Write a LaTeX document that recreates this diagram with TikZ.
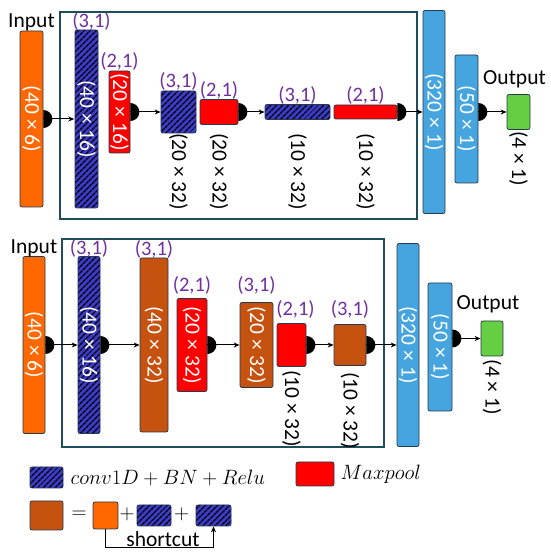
\documentclass[tikz,border=0pt]{standalone}
\usepackage{fontspec}
\setmainfont{Carlito}
\usetikzlibrary{arrows.meta,positioning,patterns.meta}
\definecolor{orng}{RGB}{255,104,0}
\definecolor{brwn}{RGB}{197,82,14}
\definecolor{hblue}{RGB}{60,60,200}
\definecolor{lblue}{RGB}{70,165,222}
\definecolor{lgrn}{RGB}{102,206,66}
\definecolor{purp}{RGB}{112,48,160}
\definecolor{edge}{RGB}{38,58,78}
\definecolor{frm}{RGB}{30,78,92}
\newcommand{\vtxt}[1]{\rotatebox{-90}{#1}}
\newcommand{\bump}[1]{\fill (#1) ++(0,-9) arc[start angle=-90,end angle=90,radius=9];}

\begin{document}
\begin{tikzpicture}[>={Stealth[length=6pt,width=5pt]},x=1pt,y=1pt,
  font=\fontsize{21.5}{25}\selectfont,
  every node/.style={inner sep=0pt},
  lay/.style 2 args={draw=edge,line width=0.8pt,rounded corners=2pt,text=white,minimum width=#1pt,minimum height=#2pt},
  inp/.style 2 args={lay={#1}{#2},fill=orng},
  conv/.style 2 args={lay={#1}{#2},preaction={fill=hblue},pattern={Lines[angle=45,distance=4pt,line width=1.5pt]},pattern color=black},
  pool/.style 2 args={lay={#1}{#2},fill=red},
  res/.style 2 args={lay={#1}{#2},fill=brwn},
  dense/.style 2 args={lay={#1}{#2},fill=lblue},
  outl/.style 2 args={lay={#1}{#2},fill=lgrn},
  ks/.style={text=purp,font=\fontsize{20.5}{24}\selectfont},
  con/.style={->,line width=1pt},
  frame/.style={draw=frm,line width=1.2pt}]
\useasboundingbox (0,0) rectangle (550,560);
\draw[frame] (60,548) rectangle (417,341);
\draw[frame] (62,321) rectangle (384,113);

% top row
\node[inp={23}{176}] (in1) at (31.5,441) {\vtxt{(40 × 6)}};
\node[conv={23}{178}] (cv1) at (86.5,441) {\vtxt{(40 × 16)}};
\node[pool={21}{82}] (mp1) at (119.5,448) {\vtxt{(20 × 16)}};
\node[conv={35}{42}] (cv2) at (178.5,448) {};
\node[pool={38}{25}] (mp2) at (219,448) {};
\node[conv={65}{15}] (cv3) at (297.5,448) {};
\node[pool={63}{14}] (mp3) at (365.5,448) {};
\node[dense={22}{203}] (fc1) at (434,448) {\vtxt{(320 × 1)}};
\node[dense={23}{128}] (fc2) at (466.5,441) {\vtxt{(50 × 1)}};
\node[outl={23}{35}] (out1) at (518.5,448) {};

\node[above=-1pt of in1] (ti1) {Input};
\node[above=6pt of out1,xshift=-4pt] (to1) {Output};
\node[ks,above=-1pt of cv1,xshift=5pt] (k1) {(3,1)};
\node[ks,above=0pt of mp1] (k2) {(2,1)};
\node[ks,above=0pt of cv2] (k3) {(3,1)};
\node[ks,above=0pt of mp2] (k4) {(2,1)};
\node[ks,above=0pt of cv3] (k5) {(3,1)};
\node[ks,above=0pt of mp3] (k6) {(2,1)};
\coordinate (lt) at (0,427);
\node[anchor=north] (d1) at (cv2 |- lt) {\vtxt{(20 × 32)}};
\node[anchor=north] (d2) at (mp2 |- lt) {\vtxt{(20 × 32)}};
\node[anchor=north] (d3) at (cv3 |- lt) {\vtxt{(10 × 32)}};
\node[anchor=north] (d4) at (mp3 |- lt) {\vtxt{(10 × 32)}};
\node[below=1pt of out1] (d5) {\vtxt{(4 × 1)}};

\draw[con] (in1) -- (cv1);
\draw[con] (mp1) -- (cv2);
\draw[con] (mp2) -- (cv3);
\draw[con] (mp3) -- (fc1);
\draw[con] (fc2.east |- out1) -- (out1);
\bump{in1.east}
\bump{mp1.east}
\bump{mp2.east}
\bump{mp3.east}
\bump{fc2.east |- out1}

% bottom row
\node[inp={22}{177}] (in2) at (34,215) {\vtxt{(40 × 6)}};
\node[conv={22}{177}] (cv4) at (89,215) {\vtxt{(40 × 16)}};
\node[res={28}{174}] (rb1) at (154,215) {\vtxt{(40 × 32)}};
\node[pool={30}{93}] (mp4) at (192,215) {\vtxt{(20 × 32)}};
\node[res={33}{85}] (rb2) at (256.5,215) {\vtxt{(20 × 32)}};
\node[pool={29}{43}] (mp5) at (291.5,215) {};
\node[res={32}{41}] (rb3) at (350,215) {};
\node[dense={22}{203}] (fc3) at (408,215) {\vtxt{(320 × 1)}};
\node[dense={24}{128}] (fc4) at (440,213) {\vtxt{(50 × 1)}};
\node[outl={22}{35}] (out2) at (492,221.5) {};

\node[above=-1pt of in2] (ti2) {Input};
\node[above=7pt of out2,xshift=-4pt] (to2) {Output};
\node[ks,above=-1pt of cv4] (k7) {(3,1)};
\node[ks,above=-1pt of rb1] (k8) {(3,1)};
\node[ks,above=4pt of mp4] (k9) {(2,1)};
\node[ks] (k10) at (rb2 |- k9) {(3,1)};
\node[ks,above=5pt of mp5,xshift=4pt] (k11) {(2,1)};
\node[ks,above=6pt of rb3] (k12) {(3,1)};
\node[below=3pt of mp5] (d6) {\vtxt{(10 × 32)}};
\node[below=6pt of rb3] (d7) {\vtxt{(10 × 32)}};
\node[below=3pt of out2] (d8) {\vtxt{(4 × 1)}};

\draw[con] (in2) -- (cv4);
\draw[con] (cv4) -- (rb1);
\draw[con] (mp4) -- (rb2);
\draw[con] (mp5) -- (rb3);
\draw[con] (rb3) -- (fc3);
\draw[con] (fc4.east |- out2) -- (out2);
\bump{in2.east}
\bump{cv4.east}
\bump{mp4.east}
\bump{mp5.east}
\bump{rb3.east}
\bump{fc4.east |- out2}

% legend
\node[conv={33}{21}] (lg1) at (46.5,82.5) {};
\node[right=7pt of lg1,font=\fontsize{20}{24}\selectfont] (t1) {$conv1D + BN + Relu$};
\node[pool={38}{24}] (lg2) at (315,86) {};
\node[right=6pt of lg2,font=\fontsize{20}{24}\selectfont] (t2) {$Maxpool$};
\node[res={33}{29}] (lg3) at (46.5,44.5) {};
\node (eq) at (79,45) {$=$};
\node[inp={25}{27}] (lg4) at (105.5,44.5) {};
\node (pl1) at (127,46) {$+$};
\node[conv={34}{21}] (lg5) at (154,44.5) {};
\node (pl2) at (181.5,46) {$+$};
\node[conv={35}{21}] (lg6) at (213.5,44.5) {};
\draw[con] (lg4.south) -- (lg4.south |- 0,12) -| (lg6.south);
\node (sc) at (163,21) {shortcut};
\end{tikzpicture}
\end{document}
